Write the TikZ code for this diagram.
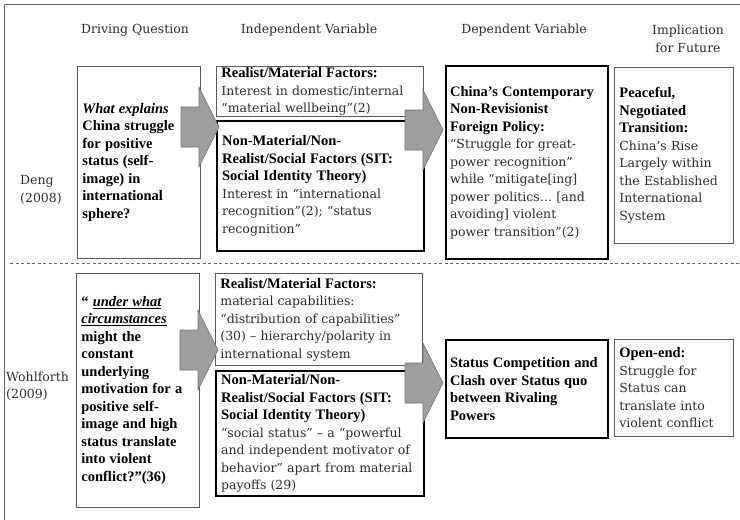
\documentclass[tikz,border=0pt]{standalone}
\usepackage{fontspec}
\setmainfont{DejaVu Serif}
\newfontfamily\tfont{Liberation Serif}
\newcommand\rg{\fontsize{12.5}{17.5}\selectfont\color{black!82}}
\newcommand\bd{\tfont\bfseries\fontsize{14.5}{17.5}\selectfont\color{black}}
\newcommand\bi{\tfont\bfseries\itshape\fontsize{14.5}{17.5}\selectfont\color{black}}
\tikzset{
  thinbox/.style={draw=black!65, line width=0.8pt, fill=white, inner xsep=5pt, inner ysep=0pt, anchor=north west, align=left, font=\rg},
  thickbox/.style={draw=black, line width=2.2pt, fill=white, inner xsep=5pt, inner ysep=0pt, anchor=north west, align=left, font=\rg},
  lbl/.style={font=\rg, inner sep=0pt},
  blockarr/.style={fill=black!38, draw=black!55, line width=0.6pt, line join=miter},
  frameline/.style={draw=black!60, line width=1.5pt},
  sepline/.style={draw=black!60, line width=0.8pt, dash pattern=on 3pt off 2.5pt}
}
\newcommand\blockarrow[1]{\draw[blockarr] (#1) -- ++(-20,-40) -- ++(0,20) -- ++(-18,0) -- ++(0,40) -- ++(18,0) -- ++(0,20) -- cycle;}
\begin{document}
\begin{tikzpicture}[x=1pt,y=-1pt]
\useasboundingbox (0,0) rectangle (740,520);
% frame
\draw[frameline] (4.5,520) -- (4.5,4.5) -- (740,4.5);
% headers
\node[lbl] (h1) at (135,30) {Driving Question};
\node[lbl] (h2) at (309,30) {Independent Variable};
\node[lbl] (h3) at (524,30) {Dependent Variable};
\node[lbl, align=center] (h4) at (688,39) {Implication\\for Future};
% labels
\node[lbl, anchor=west, align=left] (deng) at (20,190) {Deng\\(2008)};
\node[lbl, anchor=west, align=left] (wohl) at (6,386) {Wohlforth\\(2009)};
% Deng row
\node[thinbox, text width=113pt, minimum height=192pt] (q1) at (77,66)
  {{\bi What explains}\\{\bd China struggle}\\{\bd for positive}\\{\bd status (self-}\\{\bd image) in}\\{\bd international}\\{\bd sphere?}};
\node[thinbox, text width=197pt, minimum height=50pt] (ivr1) at (216,66)
  {{\bd Realist/Material Factors:}\\Interest in domestic/internal\\“material wellbeing”(2)};
\node[thickbox, text width=197pt, minimum height=130pt] (ivn1) at (216,120)
  {{\bd Non-Material/Non-}\\{\bd Realist/Social Factors (SIT:}\\{\bd Social Identity Theory)}\\Interest in “international\\recognition”(2); “status\\recognition”};
\node[thickbox, text width=154pt, inner xsep=4pt, minimum height=193pt] (dv1) at (445,65)
  {{\bd China’s Contemporary}\\{\bd Non-Revisionist}\\{\bd Foreign Policy:}\\“Struggle for great-\\power recognition”\\while “mitigate[ing]\\power politics… [and\\avoiding] violent\\power transition”(2)};
\node[thinbox, text width=109pt, minimum height=176pt] (im1) at (614,67)
  {{\bd Peaceful,}\\{\bd Negotiated}\\{\bd Transition:}\\China’s Rise\\Largely within\\the Established\\International\\System};
% separator
\coordinate (sepL) at (10,263);
\coordinate (sepR) at (740,263);
\draw[sepline] (sepL) -- (sepR);
% Wohlforth row
\node[thinbox, text width=113pt, minimum height=234pt] (q2) at (76,273)
  {{\bd “ \underline{\bi under what}}\\{\bi \underline{circumstances}}\\{\bd might the}\\{\bd constant}\\{\bd underlying}\\{\bd motivation for a}\\{\bd positive self-}\\{\bd image and high}\\{\bd status translate}\\{\bd into violent}\\{\bd conflict?”(36)}};
\node[thinbox, text width=197pt, minimum height=92pt] (ivr2) at (215,273)
  {{\bd Realist/Material Factors:}\\material capabilities:\\“distribution of capabilities”\\(30) – hierarchy/polarity in\\international system};
\node[thickbox, text width=198pt, minimum height=125pt] (ivn2) at (215,370)
  {{\bd Non-Material/Non-}\\{\bd Realist/Social Factors (SIT:}\\{\bd Social Identity Theory)}\\“social status” – a “powerful\\and independent motivator of\\behavior” apart from material\\payoffs (29)};
\node[thickbox, text width=154pt, inner xsep=4pt, minimum height=98pt] (dv2) at (445,339)
  {{\bd Status Competition and}\\{\bd Clash over Status quo}\\{\bd between Rivaling}\\{\bd Powers}};
\node[thinbox, text width=109pt, minimum height=97pt] (im2) at (614,339)
  {{\bd Open-end:}\\Struggle for\\Status can\\translate into\\violent conflict};
% block arrows (tips)
\coordinate (a1) at (219,127);
\coordinate (a2) at (443,130);
\coordinate (a3) at (218,350);
\coordinate (a4) at (443,383);
\blockarrow{a1}
\blockarrow{a2}
\blockarrow{a3}
\blockarrow{a4}
\end{tikzpicture}
\end{document}
